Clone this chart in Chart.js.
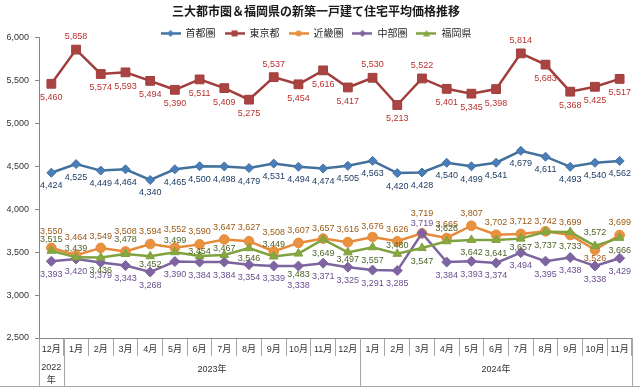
<!DOCTYPE html>
<html>
<head>
<meta charset="utf-8">
<script src="https://cdn.jsdelivr.net/npm/chart.js@4.4.1/dist/chart.umd.min.js"></script>
<style>
  html, body { margin: 0; padding: 0; background: #fff; }
  #wrap { width: 640px; height: 389px; }
</style>
</head>
<body>
<div id="wrap"><canvas id="chart"></canvas></div>
<script>
// 月（2022年12月〜2024年11月）
const months = ["12月", "1月", "2月", "3月", "4月", "5月", "6月", "7月", "8月", "9月", "10月", "11月", "12月",
  "1月", "2月", "3月", "4月", "5月", "6月", "7月", "8月", "9月", "10月", "11月"];
const yearLabels = [["2022", "年"], "2023年", "2024年"];
const yearSpans = [1, 12, 11];

// 平均価格（万円）
const shutoken = [4424, 4525, 4449, 4464, 4340, 4465, 4500, 4498, 4479, 4531, 4494, 4474, 4505,
  4563, 4420, 4428, 4540, 4499, 4541, 4679, 4611, 4493, 4540, 4562];
const tokyo = [5460, 5858, 5574, 5593, 5494, 5390, 5511, 5409, 5275, 5537, 5454, 5616, 5417,
  5530, 5213, 5522, 5401, 5345, 5398, 5814, 5683, 5368, 5425, 5517];
const kinki = [3550, 3464, 3549, 3508, 3594, 3552, 3590, 3647, 3627, 3508, 3607, 3657, 3616,
  3676, 3626, 3719, 3665, 3807, 3702, 3712, 3742, 3699, 3526, 3699];
const chubu = [3393, 3420, 3379, 3343, 3268, 3390, 3384, 3384, 3354, 3339, 3338, 3371, 3325,
  3291, 3285, 3719, 3384, 3393, 3374, 3494, 3395, 3438, 3338, 3429];
const fukuoka = [3515, 3439, 3436, 3478, 3452, 3499, 3454, 3467, 3546, 3449, 3483, 3649, 3497,
  3557, 3480, 3547, 3626, 3642, 3641, 3657, 3737, 3733, 3572, 3666];

const yTicks = { min: 2500, max: 6000, step: 500 };

// データラベルの上下位置（点からのずれ, px）
const labelDy = [
  months.map(() => 13),
  months.map((m, i) => [1, 9, 13, 15, 19].includes(i) ? -13 : 14),
  [-16, -18, -11, -20, -13, -18, -13, -12, -14, -19, -12, -10, -13, -10, -12, -20, -13, -12, -12, -12, -10, -13, 9, -13],
  months.map((m, i) => i === 10 ? 19 : (i === 15 ? -10 : 13)),
  [-11, -9, 13, -14, 8, -12, -5, -6, 10, -12, 21, 14, 7, 13, -8, 13, -13, 13, 14, 9, 14, 14, -13, 13]
];

const series = [
  { label: "首都圏", data: shutoken, line: "#41719C", fill: "#4A7EBB", text: "#1F3B63", shape: "rectRot", r: 4.5 },
  { label: "東京都", data: tokyo, line: "#A13E3C", fill: "#A94442", text: "#B8312F", shape: "rect", r: 6.2 },
  { label: "近畿圏", data: kinki, line: "#E68A3A", fill: "#E8913F", text: "#9C5A15", shape: "circle", r: 4.8 },
  { label: "中部圏", data: chubu, line: "#7C649E", fill: "#8064A2", text: "#6B4F91", shape: "rectRot", r: 5 },
  { label: "福岡県", data: fukuoka, line: "#7FA23E", fill: "#86A83E", text: "#4F6228", shape: "triangle", r: 5 }
];

const fmt = (v) => v.toLocaleString("en-US");
const numFont = '"Liberation Sans", Arial, sans-serif';
const jpFont = '"Noto Sans CJK JP", sans-serif';

// 凡例用の小さい線＋マーカー
const legendIcon = (s) => {
  const c = document.createElement("canvas");
  c.width = 20; c.height = 9;
  const g = c.getContext("2d");
  g.strokeStyle = s.line; g.lineWidth = 2.5;
  g.beginPath(); g.moveTo(0, 4.5); g.lineTo(20, 4.5); g.stroke();
  g.fillStyle = s.fill;
  g.beginPath();
  if (s.shape === "rect") g.rect(7, 1.5, 6, 6);
  else if (s.shape === "circle") g.arc(10, 4.5, 3, 0, Math.PI * 2);
  else if (s.shape === "triangle") { g.moveTo(10, 1); g.lineTo(13.5, 7.5); g.lineTo(6.5, 7.5); g.closePath(); }
  else { g.moveTo(10, 1); g.lineTo(13.5, 4.5); g.lineTo(10, 8); g.lineTo(6.5, 4.5); g.closePath(); }
  g.fill();
  return c;
};

const valueLabels = {
  id: "valueLabels",
  afterDatasetsDraw(chart) {
    const ctx = chart.ctx;
    ctx.save();
    ctx.font = "9px " + numFont;
    ctx.textAlign = "center";
    ctx.textBaseline = "middle";
    chart.data.datasets.forEach((ds, di) => {
      const meta = chart.getDatasetMeta(di);
      ctx.fillStyle = series[di].text;
      meta.data.forEach((pt, i) => {
        ctx.fillText(fmt(ds.data[i]), pt.x, pt.y + labelDy[di][i]);
      });
    });
    ctx.restore();
  }
};

// 年の段（表形式の軸）
const yearRow = {
  id: "yearRow",
  afterDraw(chart) {
    const { ctx, chartArea } = chart;
    const xs = chart.scales.x;
    const half = (xs.getPixelForValue(1) - xs.getPixelForValue(0)) / 2;
    const bottom = 386.5;
    ctx.save();
    ctx.strokeStyle = "#a6a6a6";
    ctx.lineWidth = 1;
    ctx.fillStyle = "#333";
    ctx.font = "9px " + numFont + ", " + jpFont;
    ctx.textAlign = "center";
    ctx.textBaseline = "middle";
    let start = 0;
    const edge = (x) => Math.round(x) + 0.5;
    ctx.beginPath();
    ctx.moveTo(edge(xs.getPixelForValue(0) - half), chartArea.bottom);
    ctx.lineTo(edge(xs.getPixelForValue(0) - half), bottom);
    yearSpans.forEach((n, k) => {
      const end = start + n - 1;
      const xr = edge(xs.getPixelForValue(end) + half);
      ctx.moveTo(xr, chartArea.bottom);
      ctx.lineTo(xr, bottom);
      const cx = (xs.getPixelForValue(start) + xs.getPixelForValue(end)) / 2;
      const lab = yearLabels[k];
      if (Array.isArray(lab)) {
        ctx.fillText(lab[0], cx, 368);
        ctx.fillText(lab[1], cx, 381);
      } else {
        ctx.fillText(lab, cx, 370);
      }
      start += n;
    });
    ctx.moveTo(0, bottom);
    ctx.lineTo(640, bottom);
    ctx.stroke();
    ctx.restore();
  }
};

const datasets = series.map((s, i) => ({
  label: s.label,
  data: s.data,
  borderColor: s.line,
  backgroundColor: s.fill,
  borderWidth: 2.5,
  tension: 0,
  pointStyle: s.shape,
  pointRadius: s.r,
  pointHoverRadius: s.r,
  pointBackgroundColor: s.fill,
  pointBorderColor: s.line,
  pointBorderWidth: 1,
  order: series.length - i
}));

new Chart(document.querySelector("#chart"), {
  type: "line",
  data: { labels: months, datasets: datasets },
  options: {
    responsive: true,
    maintainAspectRatio: false,
    animation: false,
    layout: { padding: { left: 0, right: 8, top: 0, bottom: 0 } },
    plugins: {
      tooltip: { enabled: false },
      title: {
        display: true,
        text: "三大都市圏＆福岡県の新築一戸建て住宅平均価格推移",
        color: "#1a1a1a",
        font: { family: jpFont, size: 12, weight: "bold" },
        padding: { top: 4, bottom: 1 }
      },
      legend: {
        display: true,
        maxHeight: 18,
        labels: {
          color: "#262626",
          font: { family: jpFont, size: 10 },
          usePointStyle: true,
          pointStyleWidth: 20,
          padding: 9,
          sort: (a, b) => a.datasetIndex - b.datasetIndex,
          generateLabels: (chart) => {
            const items = Chart.defaults.plugins.legend.labels.generateLabels(chart);
            items.forEach((it) => { it.pointStyle = legendIcon(series[it.datasetIndex]); });
            return items;
          }
        }
      }
    },
    scales: {
      x: {
        offset: true,
        grid: { display: true, drawOnChartArea: false, drawTicks: true, tickLength: 18, offset: true, color: "#a6a6a6" },
        border: { display: true, color: "#868686" },
        ticks: {
          autoSkip: false, maxRotation: 0, minRotation: 0,
          padding: -12,
          color: "#333",
          font: { family: numFont + ", " + jpFont, size: 9 }
        },
        afterFit: (s) => { s.height = 51; }
      },
      y: {
        min: yTicks.min,
        max: yTicks.max,
        grid: { display: true, drawOnChartArea: false, drawTicks: true, tickLength: 4, color: "#868686" },
        border: { display: true, color: "#868686" },
        ticks: {
          stepSize: yTicks.step,
          padding: 6,
          color: "#333",
          font: { family: numFont, size: 9 },
          callback: (v) => fmt(v)
        },
        afterFit: (s) => { s.width = 39; }
      }
    }
  },
  plugins: [valueLabels, yearRow]
});
</script>
</body>
</html>
